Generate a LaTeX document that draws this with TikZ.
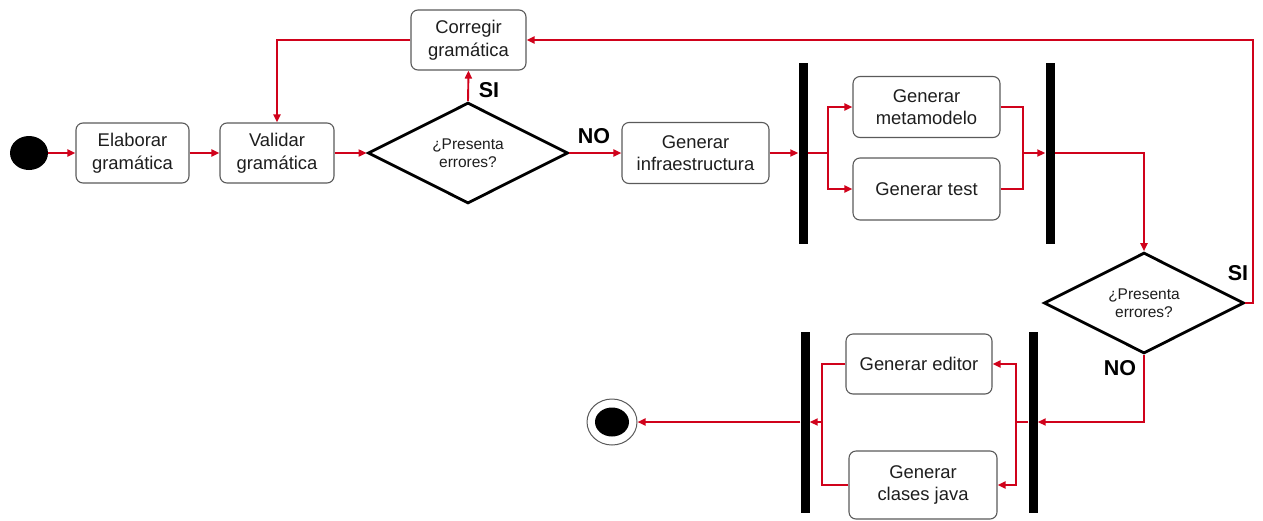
\documentclass[tikz,border=0pt]{standalone}
\usepackage{fontspec}
\setmainfont{Liberation Sans}
\usetikzlibrary{shapes.geometric,arrows.meta}
\definecolor{flowred}{HTML}{D0021B}
\definecolor{boxline}{HTML}{5A5A5A}
\definecolor{txt}{HTML}{1E1E1E}
\begin{document}
\begin{tikzpicture}[x=1pt,y=-1pt,
  act/.style={draw=boxline,line width=1.1pt,rounded corners=7pt,fill=white,
    inner sep=0pt,align=center,text=txt,
    font=\fontsize{18.4}{22.5}\selectfont},
  decision/.style={draw=black,line width=2.8pt,diamond,fill=white,inner sep=0pt,
    align=center,text=txt,font=\fontsize{15.5}{18.5}\selectfont},
  syncbar/.style={fill=black,draw=none,minimum width=9pt,minimum height=181pt,inner sep=0pt},
  flow/.style={draw=flowred,line width=1.9pt,-{Triangle[length=8pt,width=7pt]}},
  link/.style={draw=flowred,line width=1.9pt},
  guard/.style={font=\fontsize{21.5}{24}\bfseries,text=black,inner sep=0pt}
]
\useasboundingbox (0,0) rectangle (1263,520);

% initial and final states
\node[ellipse,fill=black,minimum width=38pt,minimum height=34pt,inner sep=0pt] (start) at (29,153) {};
\node[ellipse,draw=boxline,line width=1pt,fill=white,minimum width=50pt,minimum height=46pt,inner sep=0pt] (end) at (612,422) {};
\node[ellipse,fill=black,minimum width=34pt,minimum height=29pt,inner sep=0pt] (endin) at (612,422) {};

% actions
\node[act,minimum width=113pt,minimum height=60pt] (elab) at (132.5,153) {Elaborar\\gramática};
\node[act,minimum width=114pt,minimum height=60pt] (val) at (277,153) {Validar\\gramática};
\node[act,minimum width=115pt,minimum height=60pt] (corr) at (468.5,40) {Corregir\\gramática};
\node[act,minimum width=147pt,minimum height=61pt] (infra) at (695.5,153) {Generar\\infraestructura};
\node[act,minimum width=147pt,minimum height=61pt] (meta) at (926.5,107) {Generar\\metamodelo};
\node[act,minimum width=147pt,minimum height=62pt] (test) at (926.5,189) {Generar test};
\node[act,minimum width=146pt,minimum height=60pt] (edit) at (919,364) {Generar editor};
\node[act,minimum width=148pt,minimum height=68pt] (java) at (923,485) {Generar\\clases java};

% decisions
\node[decision,minimum width=200pt,minimum height=98pt] (dec1) at (468,153) {¿Presenta\\errores?};
\node[decision,minimum width=200pt,minimum height=98pt] (dec2) at (1144,303) {¿Presenta\\errores?};

% fork / join bars
\node[syncbar] (bar1) at (803,153) {};
\node[syncbar] (bar2) at (1050,153) {};
\node[syncbar] (bar3) at (1033,422) {};
\node[syncbar] (bar4) at (805,422) {};

% branch points
\coordinate (fk1) at (828,153);
\coordinate (jn1) at (1023,153);
\coordinate (fk2) at (1016,422);
\coordinate (jn2) at (822,422);

% flows
\draw[flow] (start.east) -- (elab.west);
\draw[flow] (elab.east) -- (val.west);
\draw[flow] (val.east) -- (dec1.west);
\draw[flow] (dec1.north) -- (corr.south);
\draw[flow] (corr.west) -| (val.north);
\draw[flow] (dec1.east) -- (infra.west);
\draw[flow] (infra.east) -- (bar1.west |- infra.east);
\draw[link] (bar1.east |- fk1) -- (fk1);
\draw[flow] (fk1) |- (meta.west);
\draw[flow] (fk1) |- (test.west);
\draw[link] (meta.east) -| (jn1);
\draw[link] (test.east) -| (jn1);
\draw[flow] (jn1) -- (bar2.west |- jn1);
\draw[flow] (bar2.east |- jn1) -| (dec2.north);
\draw[flow] (dec2.east) -- ++(8,0) |- (corr.east);
\draw[flow] (dec2.south) |- (bar3.east);
\draw[link] (bar3.west) -- (fk2);
\draw[flow] (fk2) |- (edit.east);
\draw[flow] (fk2) |- (java.east);
\draw[link] (edit.west) -| (jn2);
\draw[link] (java.west) -| (jn2);
\draw[flow] (jn2) -- (bar4.east);
\draw[flow] (bar4.west) -- (end.east);

% guards
\node[guard] (si1) at (489,90) {SI};
\node[guard] (no1) at (594,136) {NO};
\node[guard] (si2) at (1238,273) {SI};
\node[guard] (no2) at (1120,368) {NO};
\end{tikzpicture}
\end{document}
